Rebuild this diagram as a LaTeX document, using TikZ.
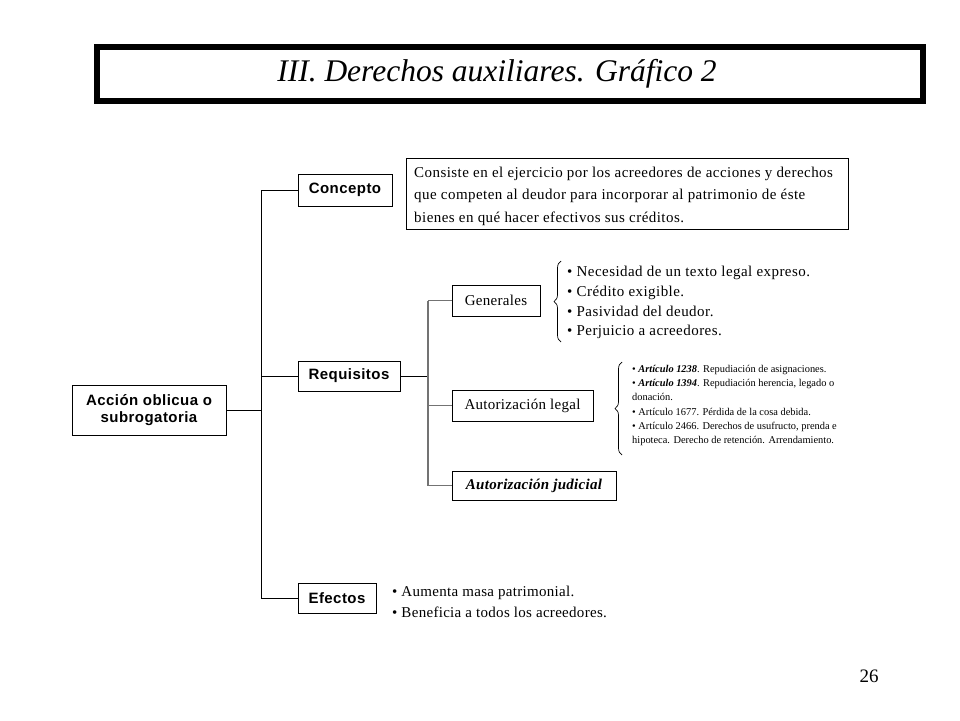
\documentclass[tikz,border=0pt]{standalone}
\usepackage{fontspec}
\setmainfont{Liberation Serif}
\newfontfamily\arialb{Liberation Sans}[LetterSpace=3]
\newfontfamily\tms{Liberation Serif}[LetterSpace=3]
\newfontfamily\tmsb{Liberation Serif}[LetterSpace=2]
\usetikzlibrary{decorations.pathreplacing}
\begin{document}
\begin{tikzpicture}[x=1pt,y=-1pt,
  sbox/.style={draw=black,line width=1pt,inner sep=0pt,font=\arialb\bfseries\fontsize{15}{17}\selectfont,align=center},
  tbox/.style={draw=black,line width=1pt,inner sep=0pt,font=\tmsb\fontsize{15}{17}\selectfont},
  conn/.style={line width=1pt,black},
  gconn/.style={line width=1.6pt,black!55},
  brc/.style={decorate,decoration={brace,amplitude=7pt,mirror},line width=0.7pt},
  txt/.style={inner sep=0pt,anchor=north west,align=left}]
\useasboundingbox (0,0) rectangle (960,720);
% title
\node[draw=black,line width=6pt,minimum width=826pt,minimum height=54pt,inner sep=0pt] (title) at (510,74) {};
\node[inner sep=0pt,font=\itshape\fontsize{31.5}{34}\selectfont] (ttext) at (497,74) {III. Derechos auxiliares. Gráfico 2};
% main box
\node[sbox,minimum width=154pt,minimum height=50pt] (acc) at (149,410) {Acción oblicua o\\subrogatoria};
\node[sbox,minimum width=94pt,minimum height=32pt] (con) at (345,190) {Concepto};
\node[sbox,minimum width=102pt,minimum height=30pt] (req) at (349,376) {Requisitos};
\node[sbox,minimum width=78pt,minimum height=30pt] (efe) at (337,598) {Efectos};
\coordinate (t1) at (261,410);
\coordinate (ttop) at (261,190);
\coordinate (tbot) at (261,598);
\draw[conn] (acc.east) -- (t1);
\draw[conn] (ttop) -- (tbot);
\draw[conn] (ttop) -- (con.west);
\draw[conn] (261,376) -- (req.west);
\draw[conn] (tbot) -- (efe.west);
% concept text
\node[draw=black,line width=1pt,minimum width=442pt,minimum height=71pt,inner sep=0pt] (ctxt) at (627,193.5) {};
\node[txt,font=\tms\fontsize{15}{22.5}\selectfont,anchor=west] (ctext) at (414,196)
 {Consiste en el ejercicio por los acreedores de acciones y derechos\\
  que competen al deudor para incorporar al patrimonio de éste\\
  bienes en qué hacer efectivos sus créditos.};
% second level
\node[tbox,minimum width=88pt,minimum height=31pt] (gen) at (496,300.5) {Generales};
\node[tbox,minimum width=141pt,minimum height=31pt] (leg) at (522.5,405.5) {Autorización legal};
\node[tbox,minimum width=164pt,minimum height=29pt,font=\tmsb\bfseries\itshape\fontsize{15}{17}\selectfont] (jud) at (534,485.5) {Autorización judicial};
\coordinate (s1) at (428,376);
\coordinate (stop) at (428,300.5);
\coordinate (sbot) at (428,485.5);
\draw[conn] (req.east) -- (s1);
\draw[gconn] (stop) -- (sbot);
\draw[gconn] (stop) -- (gen.west);
\draw[gconn] (428,405.5) -- (leg.west);
\draw[gconn] (sbot) -- (jud.west);
% generales list
\coordinate (b1t) at (561,261);
\coordinate (b1b) at (561,342);
\draw[brc] (b1t) -- (b1b);
\node[txt,font=\tms\fontsize{15}{19.7}\selectfont] (glist) at (567,266)
 {• Necesidad de un texto legal expreso.\\
  • Crédito exigible.\\
  • Pasividad del deudor.\\
  • Perjuicio a acreedores.};
% legal list
\coordinate (b2t) at (622,362);
\coordinate (b2b) at (622,455);
\draw[brc] (b2t) -- (b2b);
\node[txt,font=\fontsize{10.4}{14.2}\selectfont] (llist) at (632,365)
 {• \textbf{\textit{Artículo 1238}}. Repudiación de asignaciones.\\
  • \textbf{\textit{Artículo 1394}}. Repudiación herencia, legado o\\
  donación.\\
  • Artículo 1677. Pérdida de la cosa debida.\\
  • Artículo 2466. Derechos de usufructo, prenda e\\
  hipoteca. Derecho de retención. Arrendamiento.};
% efectos list
\node[txt,font=\tmsb\fontsize{15}{21}\selectfont] (elist) at (392,586)
 {• Aumenta masa patrimonial.\\
  • Beneficia a todos los acreedores.};
\node[font=\fontsize{19}{21}\selectfont,inner sep=0pt] (pg) at (869,676) {26};
\end{tikzpicture}
\end{document}
